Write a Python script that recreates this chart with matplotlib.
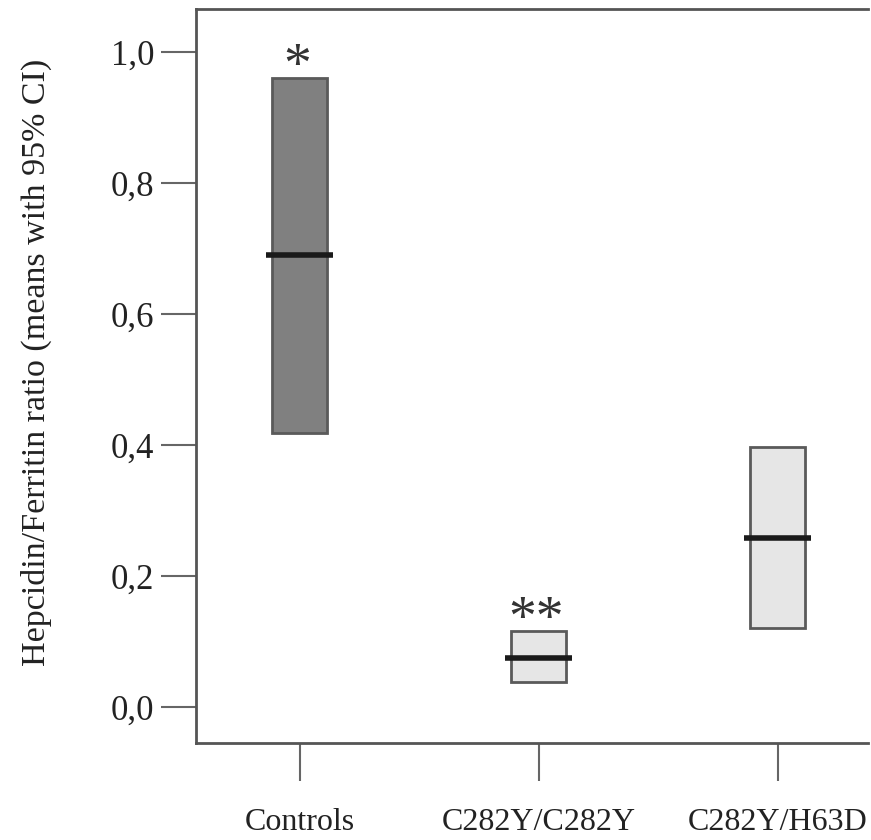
import matplotlib
matplotlib.use("Agg")
import matplotlib.pyplot as plt
from matplotlib.patches import Rectangle

plt.rcParams['font.family'] = ['Liberation Serif', 'DejaVu Serif']

# Données : moyenne et IC 95% du rapport hepcidine/ferritine
groupes = ["Controls", "C282Y/C282Y", "C282Y/H63D"]
moyennes = [0.690, 0.075, 0.258]
ic_bas = [0.418, 0.038, 0.121]
ic_haut = [0.960, 0.116, 0.397]
etoiles = ["*", "**", ""]
y_ticks = [0.0, 0.2, 0.4, 0.6, 0.8, 1.0]
y_labels = ["0,0", "0,2", "0,4", "0,6", "0,8", "1,0"]

couleurs = ["#808080", "#e6e6e6", "#e6e6e6"]
gris = "#555555"

fig = plt.figure(figsize=(8.71, 8.40), dpi=100)
ax = fig.add_axes([196/871, 97/840, 672/871, 734/840])

largeur = 0.23
for i, g in enumerate(groupes):
    ax.add_patch(Rectangle((i - largeur/2, ic_bas[i]), largeur, ic_haut[i] - ic_bas[i],
                           facecolor=couleurs[i], edgecolor="#5a5a5a", linewidth=2))
    ax.plot([i - 0.14, i + 0.14], [moyennes[i], moyennes[i]], color="#1a1a1a",
            linewidth=4, solid_capstyle="butt")
    if etoiles[i]:
        ax.annotate(etoiles[i], (i, ic_haut[i]), xytext=(-2, -3), textcoords="offset points",
                    ha="center", va="baseline", fontsize=40, color="#333333")

ax.set_xlim(-0.435, 2.377)
ax.set_ylim(-0.055, 1.0656)
ax.set_xticks(range(len(groupes)))
ax.set_xticklabels(groupes, fontsize=23, color="#222222")
ax.set_yticks(y_ticks)
ax.set_yticklabels(y_labels, fontsize=25, color="#222222")
ax.set_ylabel("Hepcidin/Ferritin ratio (means with 95% CI)", fontsize=24.5, color="#222222")
ax.yaxis.set_label_coords(-0.214, 0.519)

ax.tick_params(axis="x", length=27, width=1.5, color="#666666", pad=20)
ax.tick_params(axis="y", length=25, width=1.5, color="#666666", pad=5)
ax.spines["right"].set_visible(False)
for s in ["left", "bottom", "top"]:
    ax.spines[s].set_color(gris)
    ax.spines[s].set_linewidth(2)

fig.savefig("out.png", dpi=100)
